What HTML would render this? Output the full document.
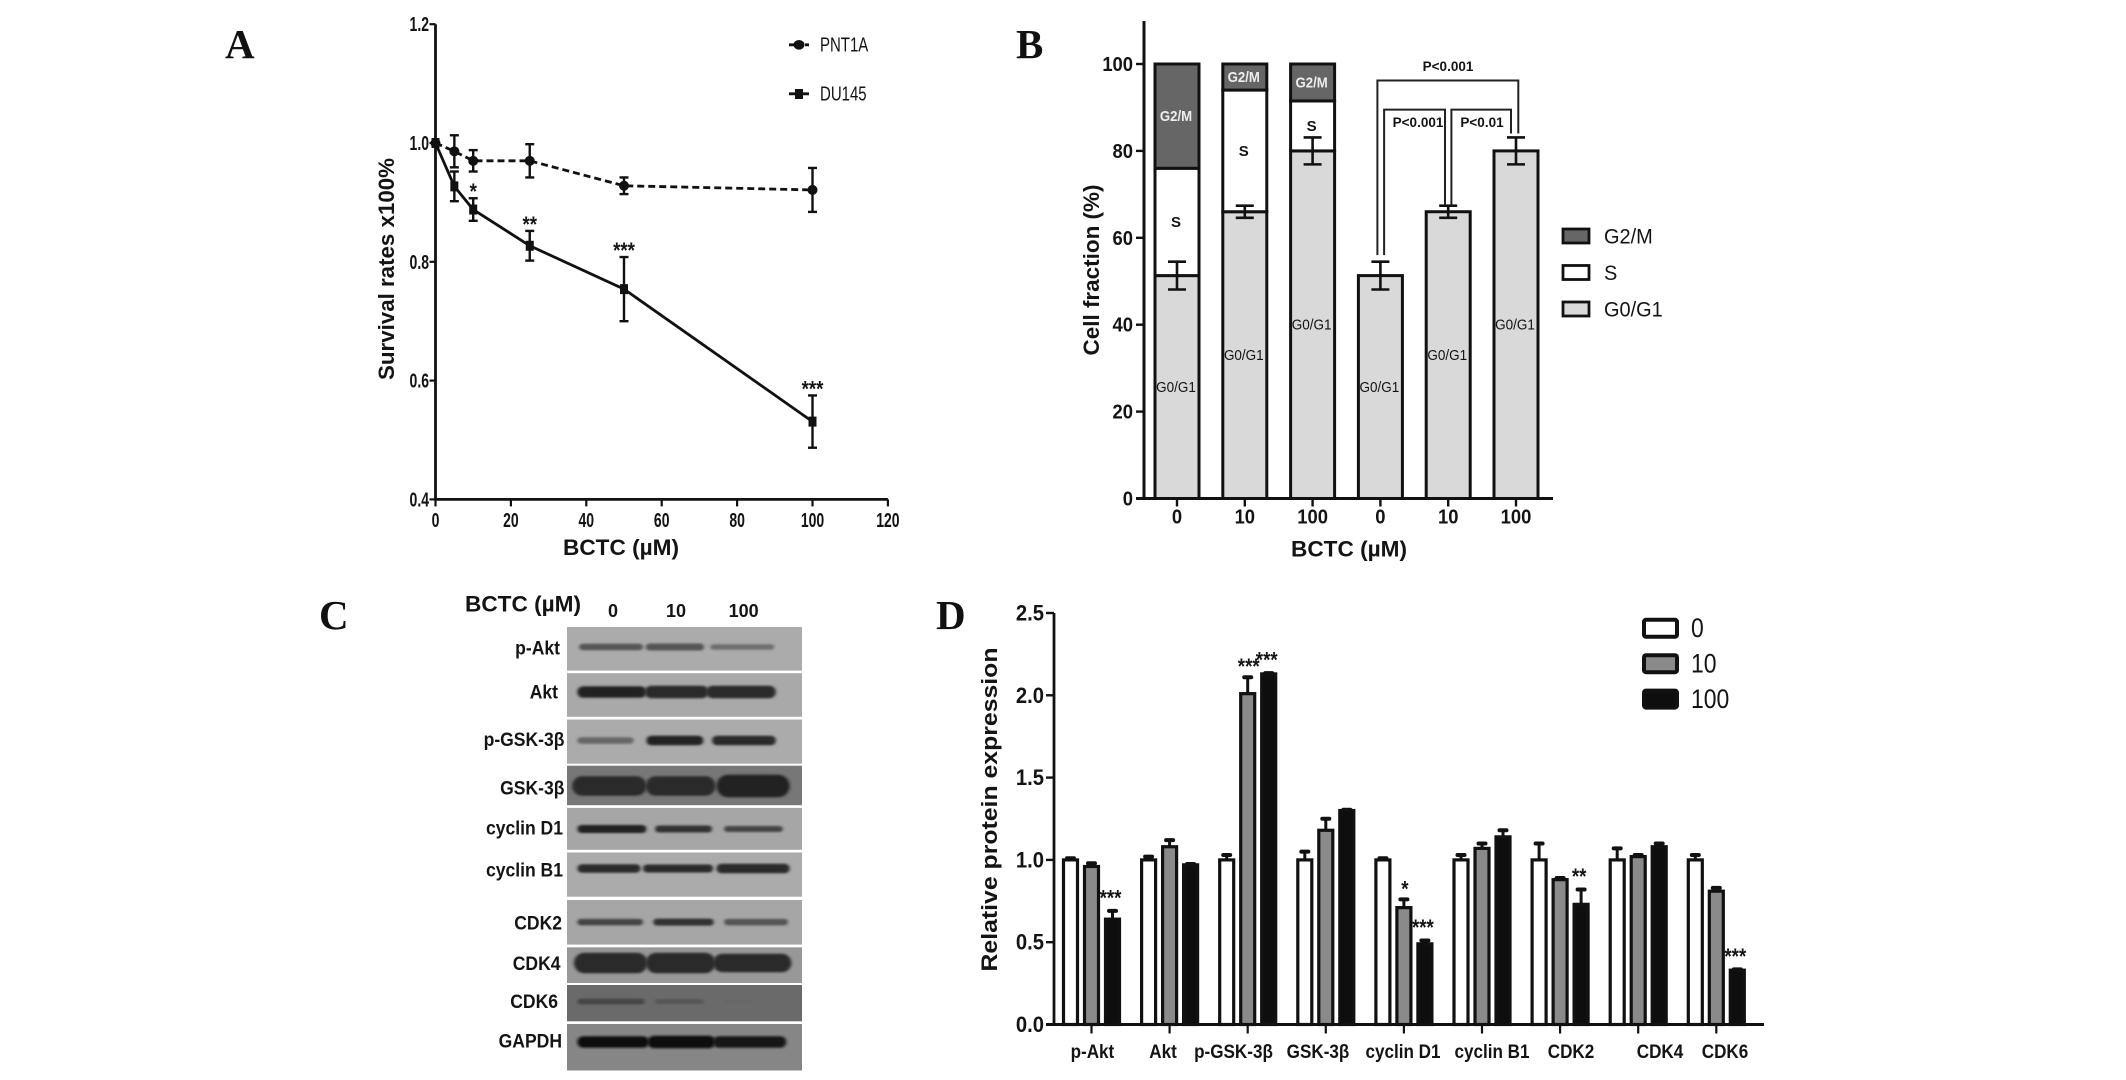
<!DOCTYPE html>
<html lang="en">
<head>
<meta charset="utf-8">
<title>BCTC survival, cell cycle and protein expression figure</title>
<style>
html,body{margin:0;padding:0;background:#fff;width:2126px;height:1080px;overflow:hidden}
svg{display:block}
text{font-family:"Liberation Sans",sans-serif;fill:#141414}
.letter{font-family:"Liberation Serif",serif;font-weight:bold;font-size:41px;fill:#111}
.title{font-weight:bold;font-size:22.5px}
</style>
</head>
<body>
<svg id="fig" xmlns="http://www.w3.org/2000/svg" width="2126" height="1080" viewBox="0 0 2126 1080">
  <defs>
    <filter id="soft" x="-10%" y="-100%" width="120%" height="300%"><feGaussianBlur stdDeviation="1.5 1"/></filter>
  </defs>
  <text class="letter" x="225" y="58">A</text>
  <text class="letter" x="1016" y="58">B</text>
  <text class="letter" x="319" y="629">C</text>
  <text class="letter" x="936" y="629">D</text>

  <text class="title" x="621" y="555" text-anchor="middle" textLength="116" lengthAdjust="spacingAndGlyphs">BCTC (µM)</text>
  <text class="title" transform="translate(394,269) rotate(-90)" text-anchor="middle" textLength="222" lengthAdjust="spacingAndGlyphs">Survival rates x100%</text>
  <text class="title" x="1349" y="556.5" text-anchor="middle" textLength="116" lengthAdjust="spacingAndGlyphs">BCTC (µM)</text>
  <text class="title" transform="translate(1099,270) rotate(-90)" text-anchor="middle" textLength="171" lengthAdjust="spacingAndGlyphs">Cell fraction (%)</text>
  <text class="title" x="523" y="611.5" text-anchor="middle" textLength="116" lengthAdjust="spacingAndGlyphs">BCTC (µM)</text>
  <text class="title" transform="translate(997,809.5) rotate(-90)" text-anchor="middle" textLength="324" lengthAdjust="spacingAndGlyphs">Relative protein expression</text>
  <g id="panelA"></g>
  <g id="panelB"></g>
  <g id="panelC"></g>
  <g id="panelD"></g>
</svg>
<script>
// Panel A data
const aDoses = [0, 5, 10, 25, 50, 100];
const aPnt = [1.0, 0.986, 0.97, 0.97, 0.928, 0.921];
const aPntErr = [0, 0.027, 0.018, 0.028, 0.014, 0.037];
const aDu = [1.0, 0.927, 0.888, 0.827, 0.754, 0.531];
const aDuErr = [0, 0.025, 0.019, 0.025, 0.054, 0.044];
const aDuStars = ['', '', '*', '**', '***', '***'];
const aXTicks = [0, 20, 40, 60, 80, 100, 120];
const aYTicks = [0.4, 0.6, 0.8, 1.0, 1.2];
// Panel B data
const bCategories = ['0', '10', '100', '0', '10', '100'];
const bG0 = [51.3, 66, 80, 51.3, 66, 80];
const bS = [24.7, 28, 11.5, 0, 0, 0];
const bG2 = [24, 6, 8.5, 0, 0, 0];
const bErr = [3.2, 1.4, 3.1, 3.2, 1.4, 3.1];
const bYTicks = [0, 20, 40, 60, 80, 100];
const bLegend = ['G2/M', 'S', 'G0/G1'];
// Panel C data
const cDoses = ['0', '10', '100'];
const cProteins = ['p-Akt', 'Akt', 'p-GSK-3β', 'GSK-3β', 'cyclin D1', 'cyclin B1', 'CDK2', 'CDK4', 'CDK6', 'GAPDH'];
// Panel D data
const dCategories = ['p-Akt', 'Akt', 'p-GSK-3β', 'GSK-3β', 'cyclin D1', 'cyclin B1', 'CDK2', 'CDK4', 'CDK6'];
const dSeries = ['0', '10', '100'];
const dV0 = [1, 1, 1, 1, 1, 1, 1, 1, 1];
const dV10 = [0.96, 1.08, 2.01, 1.18, 0.71, 1.07, 0.88, 1.02, 0.81];
const dV100 = [0.64, 0.97, 2.13, 1.30, 0.49, 1.14, 0.73, 1.08, 0.33];
const dE0 = [0.01, 0.02, 0.03, 0.05, 0.01, 0.03, 0.10, 0.07, 0.03];
const dE10 = [0.02, 0.04, 0.10, 0.07, 0.05, 0.03, 0.01, 0.01, 0.02];
const dE100 = [0.05, 0.005, 0.005, 0.005, 0.02, 0.04, 0.09, 0.02, 0.005];
const dS10 = ['', '', '***', '', '*', '', '', '', ''];
const dS100 = ['***', '', '***', '', '***', '', '**', '', '***'];
const dYTicks = [0, 0.5, 1.0, 1.5, 2.0, 2.5];

const NS = 'http://www.w3.org/2000/svg';
function mk(tag, parent, props) {
  const e = document.createElementNS(NS, tag);
  for (const k in props) e.setAttribute(k, props[k]);
  parent.appendChild(e);
  return e;
}
function ln(p, x1, y1, x2, y2, w, c, extra) {
  return mk('line', p, Object.assign({x1, y1, x2, y2, stroke: c || '#111', 'stroke-width': w || 2}, extra || {}));
}
function tx(p, x, y, s, size, opts) {
  const o = opts || {};
  const t = mk('text', p, {
    transform: 'translate(' + x + ',' + y + ') scale(' + (o.sx || 1) + ',1)',
    'text-anchor': o.anchor || 'middle',
    'font-size': size,
    'font-weight': o.weight || 'normal'
  });
  if (o.fill) t.style.fill = o.fill;
  t.textContent = s;
  return t;
}

/* ---------- Panel A ---------- */
const A = document.getElementById('panelA');
const xA = v => 435.5 + v * 3.77;
const yA = v => 499.4 - (v - 0.4) * 594;
const aAxisY = ln(A, xA(0), yA(1.2), xA(0), yA(0.4), 2.8);


const aAxisX = ln(A, xA(0), yA(0.4), xA(120), yA(0.4), 2.8);


aYTicks.forEach(v => {
  const tick = ln(A, xA(0) - 6, yA(v), xA(0), yA(v), 2.2);
  
  
  const lab = tx(A, 429, yA(v) + 7, v.toFixed(1), 20, {anchor: 'end', weight: 'bold', sx: 0.7});
  
  
});
aXTicks.forEach(v => {
  const tick = ln(A, xA(v), yA(0.4), xA(v), yA(0.4) + 7, 2.2);
  
  
  const lab = tx(A, xA(v), 527, String(v), 20, {weight: 'bold', sx: 0.7});
  
  
});
const pntLine = mk('polyline', A, {points: aDoses.map((d, i) => xA(d) + ',' + yA(aPnt[i])).join(' '), fill: 'none', stroke: '#111', 'stroke-width': 2.8, 'stroke-dasharray': '7 4'});


const duLine = mk('polyline', A, {points: aDoses.map((d, i) => xA(d) + ',' + yA(aDu[i])).join(' '), fill: 'none', stroke: '#111', 'stroke-width': 2.8});


function errA(x, v, e) {
  if (!e) return;
  const g = mk('g', A, {});
  
  
  ln(g, x, yA(v + e), x, yA(v - e), 2.4);
  ln(g, x - 4.5, yA(v + e), x + 4.5, yA(v + e), 2.4);
  ln(g, x - 4.5, yA(v - e), x + 4.5, yA(v - e), 2.4);
}
aDoses.forEach((d, i) => {
  errA(xA(d), aPnt[i], aPntErr[i]);
  const pt = mk('ellipse', A, {cx: xA(d), cy: yA(aPnt[i]), rx: 5, ry: 5, fill: '#111'});
  
  
  errA(xA(d), aDu[i], aDuErr[i]);
  const sq = mk('rect', A, {x: xA(d) - 4, y: yA(aDu[i]) - 5, width: 8, height: 10, fill: '#111'});
  
  
  if (aDuStars[i]) {
    const st = tx(A, xA(d), yA(aDu[i] + aDuErr[i]) + 1, aDuStars[i], 22, {weight: 'bold', sx: 0.85});
    
    
  }
});
const legP = mk('g', A, {});


ln(legP, 789, 44.8, 809, 44.8, 2.8, '#111', {'stroke-dasharray': '5 3'});
mk('ellipse', legP, {cx: 799, cy: 44.8, rx: 5.5, ry: 4.8, fill: '#111'});
tx(legP, 820, 51.5, 'PNT1A', 20, {anchor: 'start', sx: 0.75});
const legD = mk('g', A, {});


ln(legD, 789, 93.8, 809, 93.8, 2.8);
mk('rect', legD, {x: 795, y: 89, width: 8, height: 10, fill: '#111'});
tx(legD, 820, 100.5, 'DU145', 20, {anchor: 'start', sx: 0.75});

/* ---------- Panel B ---------- */
const B = document.getElementById('panelB');
const bPx = 4.345;
const xB = i => 1177 + i * 67.8;
const yB = v => 498.5 - v * bPx;
const bW = 44;
const G0C = '#d9d9d9', G2C = '#666666';
function seg(i, from, h, fill) {
  return mk('rect', B, {x: xB(i) - bW / 2, y: yB(from + h), width: bW, height: h * bPx, fill, stroke: '#111', 'stroke-width': 3});
}
bCategories.forEach((c, i) => {
  const r0 = seg(i, 0, bG0[i], G0C);
  
  
  if (bS[i]) {
    const r1 = seg(i, bG0[i], bS[i], '#ffffff');
    
    
    const r2 = seg(i, bG0[i] + bS[i], bG2[i], G2C);
    
    
    const l1 = tx(B, xB(i) - 1, yB(bG0[i] + bS[i] / 2) + 5, 'S', 15, {weight: 'bold'});
    
    
    const l2 = tx(B, xB(i) - 1, yB(bG0[i] + bS[i] + bG2[i] / 2) + 5, 'G2/M', 15, {weight: 'bold', fill: '#eee', sx: 0.88});
    
    
  }
  const l0 = tx(B, xB(i) - 1, yB(bG0[i] / 2) + 5, 'G0/G1', 15, {sx: 0.9});
  
  
  const eb = mk('g', B, {});
  
  
  ln(eb, xB(i), yB(bG0[i] + bErr[i]), xB(i), yB(bG0[i] - bErr[i]), 2.6);
  ln(eb, xB(i) - 9, yB(bG0[i] + bErr[i]), xB(i) + 9, yB(bG0[i] + bErr[i]), 2.6);
  ln(eb, xB(i) - 9, yB(bG0[i] - bErr[i]), xB(i) + 9, yB(bG0[i] - bErr[i]), 2.6);
  const tick = ln(B, xB(i), yB(0), xB(i), yB(0) + 8, 2.4);
  
  
  const lab = tx(B, xB(i), 523.5, c, 20, {weight: 'bold', sx: 0.92});
  
  
});
const bAxisY = ln(B, 1144, 21, 1144, 499.5, 3);


const bAxisX = ln(B, 1136, 498.5, 1553, 498.5, 3);


bYTicks.forEach(v => {
  const tick = ln(B, 1136, yB(v), 1144, yB(v), 2.4);
  
  
  const lab = tx(B, 1133, yB(v) + 7, String(v), 20, {anchor: 'end', weight: 'bold', sx: 0.92});
  
  
});
function bracket(xl, xr, top, dropL, dropR, s, lx, ly) {
  const g = mk('g', B, {});
  
  
  mk('polyline', g, {points: [xl + ',' + yB(dropL), xl + ',' + yB(top), xr + ',' + yB(top), xr + ',' + yB(dropR)].join(' '), fill: 'none', stroke: '#222', 'stroke-width': 2});
  tx(g, lx, ly, s, 13.5, {weight: 'bold', sx: 1});
}
bracket(xB(3) - 3, xB(5) + 2.3, 96.2, 56, 84, 'P<0.001', 1448, 71);
bracket(xB(3) + 3.7, xB(4) - 3.2, 89.5, 56, 67.5, 'P<0.001', 1418, 127);
bracket(xB(4) + 3.2, xB(5) - 5, 89.5, 67.5, 84, 'P<0.01', 1482, 127);
const bLegFill = [G2C, '#ffffff', G0C];
bLegend.forEach((s, i) => {
  const g = mk('g', B, {});
  
  
  mk('rect', g, {x: 1563, y: 229 + i * 36.5, width: 26, height: 14, fill: bLegFill[i], stroke: '#111', 'stroke-width': 2.8});
  tx(g, 1604, 243.5 + i * 36.5, s, 21, {anchor: 'start', sx: 0.95});
});

/* ---------- Panel C ---------- */
const C = document.getElementById('panelC');
const xC = z => 299.5 + z * 0.3452;
const blotTops = [627, 673.2, 719.5, 765.7, 807.9, 852.5, 900, 947.3, 985, 1024];
const blotBots = [670.6, 716.8, 763.7, 805.2, 849.8, 896.7, 944.6, 983, 1021.3, 1070.5];
const blotBgs = ['#ababab', '#a9a9a9', '#ababab', '#777777', '#a6a6a6', '#ababab', '#a6a6a6', '#989898', '#6a6a6a', '#868686'];
const blotLabelRight = [560, 558, 564.5, 564.5, 563, 563, 562, 560.5, 558, 562];
const blotLabelY = [648, 692, 739.5, 788, 828, 870, 923, 963.5, 1001.5, 1041];
const blotBandY = [647, 692, 740.5, 786, 829, 868.5, 922.1, 963, 1001.5, 1042];
const blotBands = [
  [[810, 995, 5, '#555'], [1003, 1172, 5.5, '#555'], [1190, 1375, 4, '#6e6e6e']],
  [[805, 1005, 10, '#222'], [1000, 1185, 11, '#2a2a2a'], [1178, 1380, 11, '#2a2a2a']],
  [[805, 968, 5, '#666'], [1005, 1170, 8, '#222'], [1195, 1380, 8, '#2a2a2a']],
  [[790, 1005, 18, '#2c2c2c'], [1003, 1205, 18, '#2c2c2c'], [1208, 1420, 21, '#222']],
  [[805, 1005, 6.5, '#222'], [1030, 1195, 5.5, '#333'], [1230, 1400, 4.5, '#444']],
  [[805, 988, 7, '#2a2a2a'], [995, 1198, 6.5, '#2a2a2a'], [1208, 1420, 8, '#2a2a2a']],
  [[805, 995, 5, '#444'], [1025, 1200, 5.5, '#333'], [1230, 1415, 5, '#555']],
  [[795, 1008, 19, '#2a2a2a'], [1003, 1205, 19, '#2a2a2a'], [1198, 1425, 17, '#2a2a2a']],
  [[805, 1000, 4, '#444'], [1030, 1170, 3, '#555'], [1225, 1310, 2, '#666']],
  [[805, 1012, 10, '#111'], [1008, 1205, 11, '#111'], [1198, 1410, 10, '#151515']]
];
cProteins.forEach((name, i) => {
  const g = mk('g', C, {});
  
  
  mk('rect', g, {x: 567, y: blotTops[i], width: 235, height: blotBots[i] - blotTops[i], fill: blotBgs[i]});
  blotBands[i].forEach(b => {
    const x1 = xC(b[0]), x2 = xC(b[1]), t = b[2] + 1.5, y = blotBandY[i];
    mk('rect', g, {x: x1, y: y - t / 2, width: x2 - x1, height: t, rx: t / 2, fill: b[3], filter: 'url(#soft)'});
  });
  const lab = tx(C, blotLabelRight[i], blotLabelY[i] + 6.5, name, 19.5, {anchor: 'end', weight: 'bold', sx: 0.9});
  
  
});
const cDoseX = [613, 676, 743.6];
cDoses.forEach((d, i) => {
  const lab = tx(C, cDoseX[i], 617, d, 18, {weight: 'bold'});
  
  
});

/* ---------- Panel D ---------- */
const D = document.getElementById('panelD');
const dPx = 164.6;
const xD = i => 1091.5 + i * 78.1;
const yD = v => 1024.5 - v * dPx;
const dW = 14, dStep = 21;
const dVals = [dV0, dV10, dV100];
const dErrs = [dE0, dE10, dE100];
const dFill = ['#ffffff', '#8a8a8a', '#0e0e0e'];
dCategories.forEach((c, i) => {
  dVals.forEach((arr, s) => {
    const cx = xD(i) + (s - 1) * dStep;
    const v = arr[i], e = dErrs[s][i];
    const eb = mk('g', D, {});
    
    
    ln(eb, cx, yD(v), cx, yD(v + e), 3);
    ln(eb, cx - 3.5, yD(v + e), cx + 3.5, yD(v + e), 4, '#111', {'stroke-linecap': 'round'});
    const bar = mk('rect', D, {x: cx - dW / 2, y: yD(v), width: dW, height: v * dPx, fill: dFill[s], stroke: '#111', 'stroke-width': 3.2});
    
    
  });
  if (dS10[i]) {
    const st = tx(D, xD(i) + 1, yD(dV10[i] + dE10[i]) - 3, dS10[i], 22, {weight: 'bold', sx: 0.85});
    
    
  }
  if (dS100[i]) {
    const st = tx(D, xD(i) + dStep - 2, yD(dV100[i] + dE100[i]) - 5.5, dS100[i], 22, {weight: 'bold', sx: 0.85});
    
    
  }
  const tick = ln(D, xD(i), yD(0), xD(i), yD(0) + 9, 2.2);
  
  
});
const dLabelX = [1092.4, 1163, 1233.5, 1318, 1403, 1492, 1571, 1660, 1725];
dCategories.forEach((c, i) => {
  const lab = tx(D, dLabelX[i], 1058, c, 19, {weight: 'bold', sx: 0.9});
  
  
});
const dAxisY = ln(D, 1054, yD(2.5), 1054, yD(0), 2.8);


const dAxisX = ln(D, 1046, yD(0), 1764, yD(0), 3);


dYTicks.forEach(v => {
  const tick = ln(D, 1046, yD(v), 1054, yD(v), 2.4);
  
  
  const lab = tx(D, 1044, yD(v) + 7.5, v.toFixed(1), 22, {anchor: 'end', weight: 'bold', sx: 0.92});
  
  
});
dSeries.forEach((s, i) => {
  const g = mk('g', D, {});
  
  
  mk('rect', g, {x: 1644, y: 619.8 + i * 35.4, width: 33, height: 17, rx: 2, fill: dFill[i], stroke: '#111', 'stroke-width': 4});
  tx(g, 1691, 637 + i * 35.4, s, 27, {anchor: 'start', sx: 0.85});
});
</script>
</body>
</html>
